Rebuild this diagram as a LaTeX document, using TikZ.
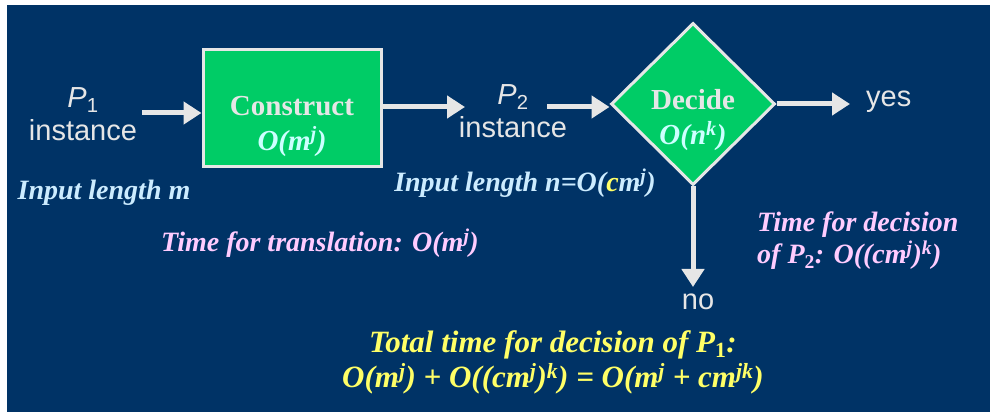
\documentclass[tikz,border=0pt]{standalone}
\usepackage{fontspec}
\setmainfont{Liberation Serif}
\newfontfamily\arialfont{Liberation Sans}
\usepackage{xcolor}
\usetikzlibrary{positioning, arrows.meta, shapes.geometric}

\definecolor{navy}{HTML}{003366}
\definecolor{boxgreen}{HTML}{00CC66}
\definecolor{edgegrey}{HTML}{E6E6E6}
\definecolor{lightcyan}{HTML}{CCECFF}
\definecolor{paleaqua}{HTML}{CCFFFF}
\definecolor{pink}{HTML}{FFCCFF}
\definecolor{lemon}{HTML}{FFFF66}

\begin{document}
\begin{tikzpicture}[x=1pt, y=-1pt,
  stepbox/.style={draw=edgegrey, line width=3pt, fill=boxgreen, minimum width=178pt, minimum height=117pt, inner sep=0pt},
  choice/.style={diamond, draw=edgegrey, line width=3pt, fill=boxgreen, minimum width=164pt, minimum height=162pt, inner sep=0pt},
  plain/.style={font=\arialfont\fontsize{29}{33}\selectfont, text=edgegrey, align=center, inner sep=0pt},
  inbox/.style={font=\bfseries\fontsize{29}{35}\selectfont, align=center, inner sep=0pt},
  note/.style={font=\bfseries\itshape\fontsize{28}{32}\selectfont, inner sep=0pt},
  arrow/.style={-{Triangle[length=18pt, width=22pt]}, line width=5pt, draw=edgegrey}
]
\useasboundingbox (0,0) rectangle (997,419);
\fill[navy] (7,5) rectangle (990,412);

\node[plain] (p1) at (83,114) {\textit{P}\textsubscript{1}\\instance};
\node[stepbox] (cons) at (292,108) {};
\node[inbox] (constxt) at (292,126) {\textcolor{edgegrey}{Construct}\\\textcolor{paleaqua}{\itshape O(m\textsuperscript{j})}};
\node[plain] (p2) at (513,111) {\textit{P}\textsubscript{2}\\instance};
\node[choice] (dec) at (693,104) {};
\node[inbox] (dectxt) at (693,120) {\textcolor{edgegrey}{Decide}\\\textcolor{paleaqua}{\itshape O(n\textsuperscript{k})}};
\node[plain, anchor=west] (yes) at (866,102) {yes};
\node[plain] (no) at (698,302) {no};
\coordinate (inend) at (142,113);
\coordinate (midend) at (465,107);
\coordinate (decend) at (547,107);
\coordinate (noend) at (693,287);

\draw[arrow] (inend) -- (cons.west |- inend);
\draw[arrow] (cons.east |- midend) -- (midend);
\draw[arrow] (decend) -- (dec.west |- decend);
\draw[arrow] (dec.east) -- ([xshift=-16pt]yes.west |- dec.east);
\draw[arrow] (dec.south) -- (noend);

\node[note, text=lightcyan] (inm) at (104,193) {Input length m};
\node[note, text=pink] (trans) at (320,243) {Time for translation: O(m\textsuperscript{j})};
\node[note, text=lightcyan] (inn) at (525,183) {Input length n=O(\textcolor{lemon}{c}m\textsuperscript{j})};
\node[note, text=pink, align=left, anchor=west] (decide) at (757,241) {Time for decision\\of P\textsubscript{\upshape 2}: O((cm\textsuperscript{j})\textsuperscript{k})};
\node[note, text=lemon, align=center, font=\bfseries\itshape\fontsize{31}{35}\selectfont] (total) at (553,362) {Total time for decision of P\textsubscript{\upshape 1}:\\O(m\textsuperscript{j}) + O((cm\textsuperscript{j})\textsuperscript{k}) = O(m\textsuperscript{j} + cm\textsuperscript{jk})};
\end{tikzpicture}
\end{document}
